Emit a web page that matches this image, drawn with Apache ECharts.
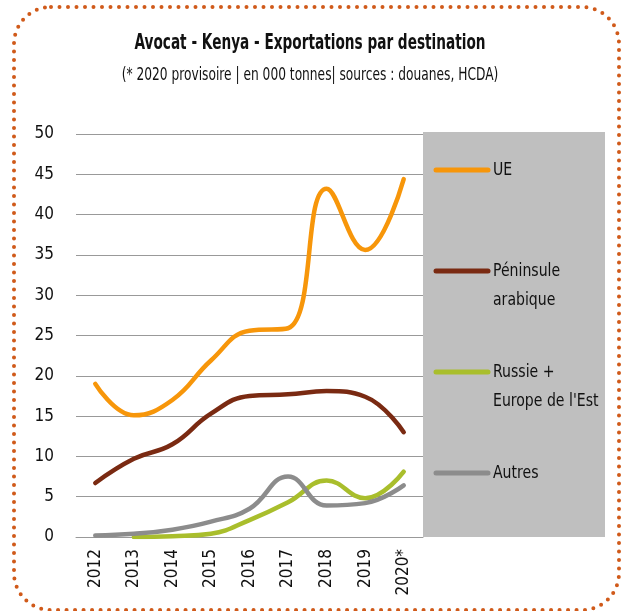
<!DOCTYPE html>
<html>
<head>
<meta charset="utf-8">
<script src="https://cdn.jsdelivr.net/npm/echarts@6/dist/echarts.min.js"></script>
<style>
  html, body { margin: 0; padding: 0; background: #fff; }
  #chart { width: 621px; height: 611px; }
</style>
</head>
<body>
<div id="chart"></div>
<script>
// données (en 000 tonnes)
const years = ['2012', '2013', '2014', '2015', '2016', '2017', '2018', '2019', '2020*'];
const ue = [19.0, 15.1, 17.0, 21.9, 25.6, 25.9, 43.2, 35.6, 44.4];
const peninsule = [6.7, 9.7, 11.5, 15.3, 17.5, 17.7, 18.1, 17.4, 13.0];
const russie = ['-', 0.0, 0.1, 0.4, 2.1, 4.3, 7.0, 4.8, 8.1];
const autres = [0.2, 0.4, 0.9, 1.9, 3.5, 7.5, 3.9, 4.2, 6.4];

const seriesNames = ['UE', 'Péninsule\narabique', 'Russie +\nEurope de l\'Est', 'Autres'];
const seriesColors = ['#F7960A', '#7A2A12', '#A9BE2C', '#8C8C8C'];
const seriesData = [ue, peninsule, russie, autres];

const titleText = 'Avocat - Kenya - Exportations par destination';
const subText = '(* 2020 provisoire | en 000 tonnes| sources : douanes, HCDA)';

const font = '"DejaVu Sans Condensed", sans-serif';

const chart = echarts.init(document.getElementById('chart'));

// légende dessinée à la main dans le cadre gris (comme sous Excel)
let legendEls = [];
const legendY = [170, 271, 372, 473];
seriesNames.forEach(function (name, i) {
  legendEls.push({
    type: 'line',
    shape: {x1: 436, y1: legendY[i], x2: 488, y2: legendY[i]},
    style: {stroke: seriesColors[i], lineWidth: 5, lineCap: 'round'}
  });
  legendEls.push({
    type: 'text',
    x: 493,
    y: legendY[i] - 14,
    scaleX: 0.92,
    style: {
      text: name,
      fill: '#111',
      font: '17px ' + font,
      lineHeight: 29,
      textVerticalAlign: 'top'
    }
  });
});

chart.setOption({
  animation: false,
  graphic: [
    {
      type: 'rect',
      shape: {x: 14, y: 7, width: 605, height: 603, r: 37},
      style: {fill: null, stroke: '#D05A1A', lineWidth: 4, lineDash: [0, 8.5], lineCap: 'round'},
      z: -10
    },
    {
      type: 'rect',
      shape: {x: 423, y: 132, width: 182, height: 405},
      style: {fill: '#BFBFBF'},
      z: -5
    },
    {
      type: 'text',
      x: 310, y: 43, scaleX: 0.69,
      style: {text: titleText, font: 'bold 22px ' + font, fill: '#111', textAlign: 'center', textVerticalAlign: 'middle'}
    },
    {
      type: 'text',
      x: 310, y: 75, scaleX: 0.755,
      style: {text: subText, font: '18px ' + font, fill: '#111', textAlign: 'center', textVerticalAlign: 'middle'}
    }
  ].concat(legendEls),
  grid: {left: 76, top: 134, width: 347, height: 403},
  xAxis: {
    type: 'category',
    data: years,
    boundaryGap: true,
    axisLine: {lineStyle: {color: '#999', width: 1}},
    axisTick: {show: false},
    axisLabel: {rotate: 90, color: '#111', fontFamily: font, fontSize: 17, margin: 12}
  },
  yAxis: {
    type: 'value',
    min: 0,
    max: 50,
    interval: 5,
    axisLine: {show: false},
    axisTick: {show: false},
    axisLabel: {color: '#111', fontFamily: font, fontSize: 17, margin: 22},
    splitLine: {lineStyle: {color: '#999', width: 1}}
  },
  series: seriesData.map(function (d, i) {
    return {
      name: seriesNames[i],
      type: 'line',
      data: d,
      smooth: 0.45,
      symbol: 'none',
      lineStyle: {color: seriesColors[i], width: 4.5, cap: 'round'},
      itemStyle: {color: seriesColors[i]}
    };
  })
});
</script>
</body>
</html>
